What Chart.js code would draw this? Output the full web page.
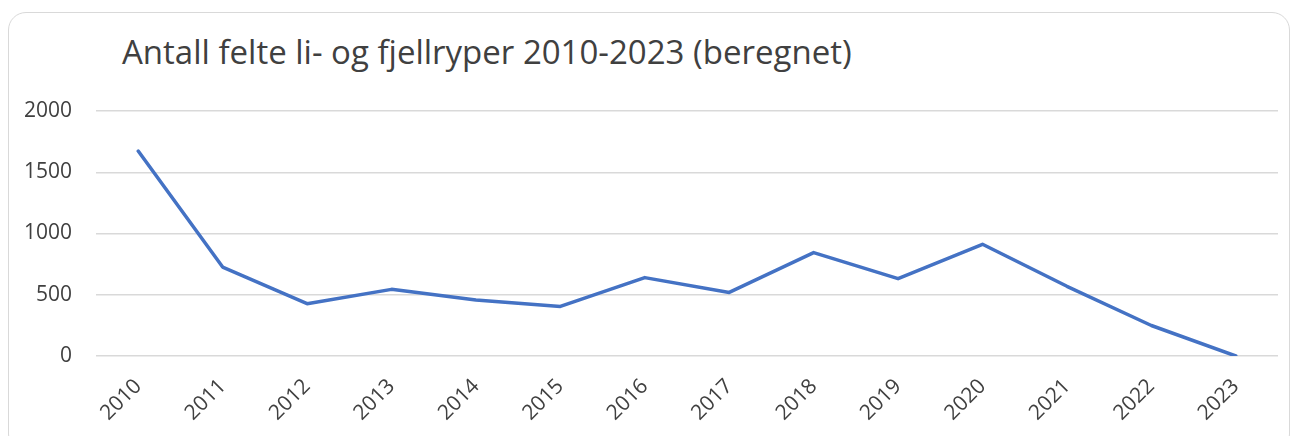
<!DOCTYPE html>
<html>
<head>
<meta charset="utf-8">
<script src="https://cdn.jsdelivr.net/npm/chart.js@4/dist/chart.umd.min.js"></script>
<style>
	body { margin: 0; background: #fff; }
	#card {
		position: absolute; left: 8px; top: 12px; width: 1282px; height: 440px;
		border: 1.5px solid #d9d9d9; border-radius: 18px; box-sizing: border-box;
	}
	#title {
		position: absolute; left: 122px; top: 29px; margin: 0;
		font: 33px "Open Sans", sans-serif; color: #404040; white-space: nowrap;
	}
	#wrap { position: absolute; left: 0; top: 0; width: 1294px; height: 436px; }
</style>
</head>
<body>
<div id="card"></div>
<div id="title">Antall felte li- og fjellryper 2010-2023 (beregnet)</div>
<div id="wrap"><canvas id="myChart"></canvas></div>
<script>
const years = ["2010", "2011", "2012", "2013", "2014", "2015", "2016", "2017", "2018", "2019", "2020", "2021", "2022", "2023"]
const felte = [1673, 726, 427, 544, 458, 405, 640, 519, 844, 631, 912, 569, 249, 0]
const yTicks = [0, 500, 1000, 1500, 2000]

const tickFont = { family: "Open Sans", size: 21 }

new Chart("myChart", {
	type: "line",
	data: {
		labels: years,
		datasets: [{
			label: "Antall felte",
			data: felte,
			borderColor: "#4472C4",
			borderWidth: 3.5,
			pointRadius: 0,
			tension: 0,
			borderCapStyle: "round",
			borderJoinStyle: "round"
		}]
	},
	options: {
		responsive: true,
		maintainAspectRatio: false,
		animation: false,
		layout: { padding: { left: 0, right: 16, top: 111, bottom: 0 } },
		plugins: {
			legend: { display: false },
			title: { display: false },
			tooltip: { enabled: false }
		},
		scales: {
			x: {
				offset: true,
				grid: { display: false },
				border: { display: false },
				ticks: {
					font: tickFont,
					color: "#404040",
					minRotation: 45,
					maxRotation: 45,
					padding: 10
				},
				afterFit: (scale) => { scale.height = 80 }
			},
			y: {
				min: 0,
				max: 2000,
				afterBuildTicks: (scale) => { scale.ticks = yTicks.map(v => ({ value: v })) },
				grid: { color: "#d9d9d9", lineWidth: 1.5, drawTicks: false },
				border: { display: false },
				ticks: {
					font: tickFont,
					color: "#404040",
					padding: 24,
					callback: (v) => String(v)
				},
				afterFit: (scale) => { scale.width = 96 }
			}
		}
	}
})
</script>
</body>
</html>
